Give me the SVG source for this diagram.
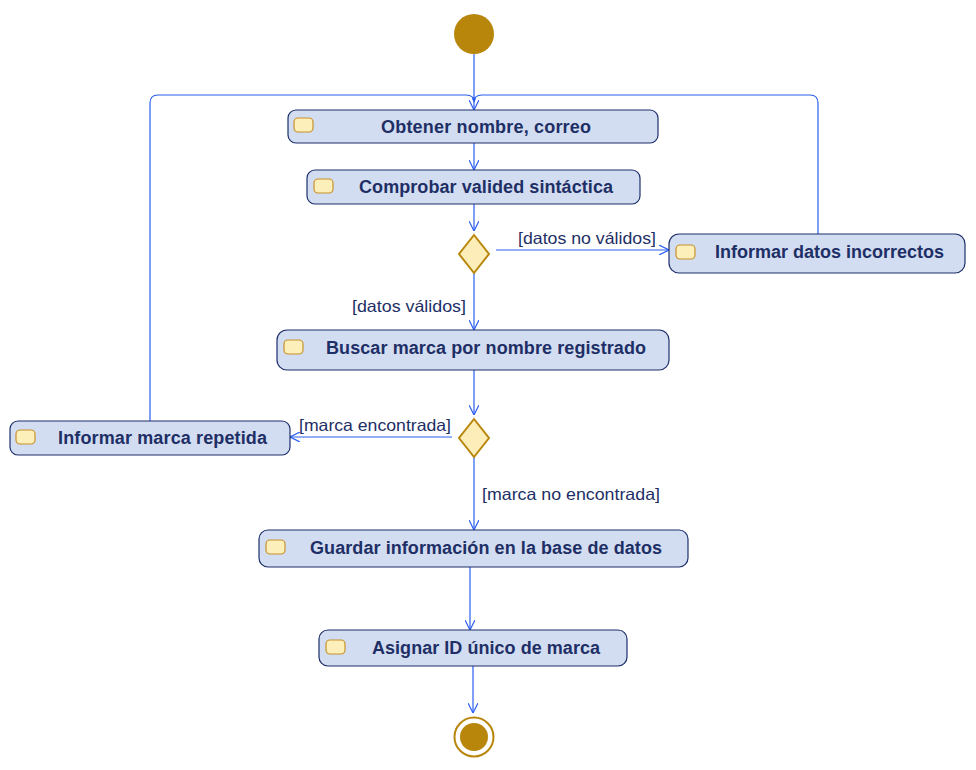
<svg xmlns="http://www.w3.org/2000/svg" width="976" height="770" viewBox="0 0 976 770">
<defs>
<style>
.node rect.box{fill:#d3ddf1;stroke:#1c2f6b;stroke-width:1.2}
.node rect.icon{fill:#fdefb9;stroke:#c8922a;stroke-width:1.2}
.node text{font-family:"Liberation Sans",Arial,sans-serif;font-weight:bold;font-size:18px;fill:#1e2f66;text-anchor:middle}
.dec{fill:#fdedb9;stroke:#b8860b;stroke-width:2}
.edge{fill:none;stroke:#2a5ef0;stroke-width:1.2}
.lbl{font-family:"Liberation Sans",Arial,sans-serif;font-size:16.5px;fill:#1e2f66}
</style>
<marker id="arr" viewBox="0 0 10 10" refX="10" refY="5" markerWidth="10" markerHeight="10" markerUnits="userSpaceOnUse" orient="auto">
<path d="M0,0 L10,5 L0,10" fill="none" stroke="#2a5ef0" stroke-width="1.2"/>
</marker>
</defs>
<rect width="976" height="770" fill="#ffffff"/>

<g id="connectors">
<path class="edge" d="M474,54 V110" marker-end="url(#arr)"/>
<circle cx="474" cy="99" r="1.8" fill="#2a5ef0"/>
<path class="edge" d="M150,421 V103 Q150,95 158,95 H466 Q474,95 474,102"/>
<path class="edge" d="M818,234 V103 Q818,95 810,95 H482 Q474,95 474,102"/>
<path class="edge" d="M474,143 V170" marker-end="url(#arr)"/>
<path class="edge" d="M474,204 V231" marker-end="url(#arr)"/>
<path class="edge" d="M496,250 H669" marker-end="url(#arr)"/>
<path class="edge" d="M474,273 V330" marker-end="url(#arr)"/>
<path class="edge" d="M474,370 V415" marker-end="url(#arr)"/>
<path class="edge" d="M452,437 H290" marker-end="url(#arr)"/>
<path class="edge" d="M474,457 V530" marker-end="url(#arr)"/>
<path class="edge" d="M470,567 V630" marker-end="url(#arr)"/>
<path class="edge" d="M473,666 V713" marker-end="url(#arr)"/>
<text class="lbl" x="518" y="244" textLength="138" lengthAdjust="spacingAndGlyphs">[datos no válidos]</text>
<text class="lbl" x="352" y="312" textLength="114" lengthAdjust="spacingAndGlyphs">[datos válidos]</text>
<text class="lbl" x="299" y="431" textLength="152" lengthAdjust="spacingAndGlyphs">[marca encontrada]</text>
<text class="lbl" x="482" y="500" textLength="178" lengthAdjust="spacingAndGlyphs">[marca no encontrada]</text>
</g>

<g id="start"><circle cx="474" cy="34" r="20" fill="#b8860b"/></g>

<g id="n1" class="node">
<rect class="box" x="288" y="110" width="370" height="33" rx="8"/>
<rect class="icon" x="294" y="118" width="19" height="14" rx="4"/>
<text x="486" y="132.5" textLength="210" lengthAdjust="spacing">Obtener nombre, correo</text>
</g>
<g id="n2" class="node">
<rect class="box" x="307" y="170" width="333" height="34" rx="8"/>
<rect class="icon" x="314" y="179" width="19" height="14" rx="4"/>
<text x="486" y="192.5" textLength="254" lengthAdjust="spacing">Comprobar valided sintáctica</text>
</g>
<g id="d1"><path class="dec" d="M474,235 L489,254 L474,273 L459,254 Z"/></g>
<g id="n3" class="node">
<rect class="box" x="669" y="234" width="296" height="39" rx="10"/>
<rect class="icon" x="676" y="245" width="19" height="14" rx="4"/>
<text x="829.5" y="257.5" textLength="229" lengthAdjust="spacing">Informar datos incorrectos</text>
</g>
<g id="n4" class="node">
<rect class="box" x="277" y="330" width="392" height="40" rx="10"/>
<rect class="icon" x="284" y="340" width="19" height="14" rx="4"/>
<text x="486" y="353.5" textLength="320" lengthAdjust="spacing">Buscar marca por nombre registrado</text>
</g>
<g id="d2"><path class="dec" d="M474,419 L489,438 L474,457 L459,438 Z"/></g>
<g id="n5" class="node">
<rect class="box" x="10" y="421" width="280" height="34" rx="8"/>
<rect class="icon" x="16" y="430" width="19" height="14" rx="4"/>
<text x="162.5" y="443.5" textLength="209" lengthAdjust="spacing">Informar marca repetida</text>
</g>
<g id="n6" class="node">
<rect class="box" x="259" y="530" width="429" height="37" rx="9"/>
<rect class="icon" x="266" y="540" width="19" height="14" rx="4"/>
<text x="486" y="553.5" textLength="352" lengthAdjust="spacing">Guardar información en la base de datos</text>
</g>
<g id="n7" class="node">
<rect class="box" x="319" y="630" width="308" height="36" rx="9"/>
<rect class="icon" x="326" y="640" width="19" height="14" rx="4"/>
<text x="486" y="653.5" textLength="228" lengthAdjust="spacing">Asignar ID único de marca</text>
</g>
<g id="end">
<circle cx="474" cy="737" r="19.5" fill="#ffffff" stroke="#b8860b" stroke-width="2"/>
<circle cx="474" cy="737" r="14" fill="#b8860b"/>
</g>
</svg>
